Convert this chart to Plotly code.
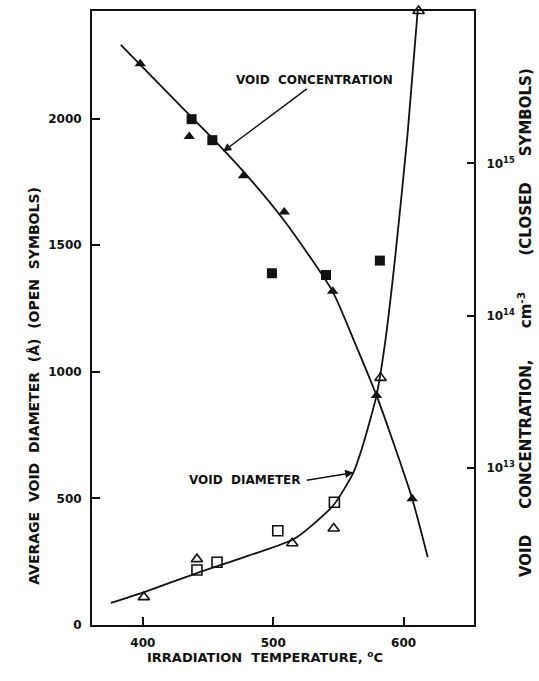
import plotly.graph_objects as go

# ---- data ----
# closed symbols: void concentration (cm^-3), right log axis
conc_tri_T = [398, 435.6, 477.2, 508.5, 545.6, 579.2, 606.6]
conc_tri_N = [4.5e15, 1.5e15, 8.3e14, 4.8e14, 1.45e14, 3.0e13, 6.3e12]
conc_sq_T = [437.4, 453.3, 499, 540.5, 581.8]
conc_sq_N = [1.95e15, 1.42e15, 1.9e14, 1.85e14, 2.3e14]

# open symbols: average void diameter (Å), left axis
dia_tri_T = [400.8, 441.5, 514.6, 546.4, 582.3, 611.5]
dia_tri_D = [110, 260, 323, 381, 976, 2425]
dia_sq_T = [441.5, 456.9, 503.5, 546.9]
dia_sq_D = [217, 248, 372, 485]

# fitted curves
conc_curve_T = [383.1, 428.5, 453.8, 476.9, 508.5, 545.4, 561.5, 579.2, 590, 606.6, 618.5]
conc_curve_N = [6.0e15, 2.4e15, 1.45e15, 8.9e14, 4.2e14, 1.45e14, 7.0e13, 3.0e13, 1.66e13, 6.3e12, 2.6e12]
dia_curve_T = [375.4, 400, 441.5, 480, 516.9, 546, 561.5, 568.5, 579.2, 586, 593.8, 603, 610.8]
dia_curve_D = [87, 128, 205, 272, 343, 472, 602, 705, 906, 1122, 1465, 1937, 2425]

x_ticks = [400, 500, 600]
y_ticks = [0, 500, 1000, 1500, 2000]
y2_ticks = [1e13, 1e14, 1e15]
y2_ticktext = ["10<sup>13</sup>", "10<sup>14</sup>", "10<sup>15</sup>"]

FONT = "DejaVu Sans"
BLACK = "#111111"
NB = "\u00a0"

fig = go.Figure()

fig.add_trace(go.Scatter(x=conc_curve_T, y=conc_curve_N, yaxis="y2", mode="lines",
                         line=dict(color=BLACK, width=1.8, shape="spline", smoothing=0.6),
                         hoverinfo="skip", showlegend=False))
fig.add_trace(go.Scatter(x=dia_curve_T, y=dia_curve_D, mode="lines",
                         line=dict(color=BLACK, width=1.8, shape="spline", smoothing=0.6),
                         hoverinfo="skip", showlegend=False, cliponaxis=True))

fig.add_trace(go.Scatter(x=conc_tri_T, y=conc_tri_N, yaxis="y2", mode="markers",
                         marker=dict(symbol="triangle-up", size=10, color=BLACK),
                         showlegend=False))
fig.add_trace(go.Scatter(x=conc_sq_T, y=conc_sq_N, yaxis="y2", mode="markers",
                         marker=dict(symbol="square", size=10, color=BLACK),
                         showlegend=False))
fig.add_trace(go.Scatter(x=dia_tri_T, y=dia_tri_D, mode="markers", cliponaxis=False,
                         marker=dict(symbol="triangle-up-open", size=10, color=BLACK,
                                     line=dict(width=1.6, color=BLACK)),
                         showlegend=False))
fig.add_trace(go.Scatter(x=dia_sq_T, y=dia_sq_D, mode="markers",
                         marker=dict(symbol="square-open", size=10, color=BLACK,
                                     line=dict(width=1.6, color=BLACK)),
                         showlegend=False))

tickfont = dict(family=FONT, size=12, color=BLACK, weight="bold")

fig.update_layout(
    width=539, height=681,
    margin=dict(l=92, r=65, t=9, b=56),
    paper_bgcolor="white", plot_bgcolor="white",
    xaxis=dict(range=[361, 654], tickvals=x_ticks, ticks="inside", ticklen=8, tickwidth=1.6,
               tickcolor=BLACK, showline=True, linewidth=2, linecolor=BLACK, mirror=True,
               showgrid=False, zeroline=False, tickfont=tickfont, ticklabelstandoff=6),
    yaxis=dict(range=[0, 2425], tickvals=y_ticks, ticks="inside", ticklen=8, tickwidth=1.6,
               tickcolor=BLACK, showline=True, linewidth=2, linecolor=BLACK, mirror=True,
               showgrid=False, zeroline=False, tickfont=tickfont, ticklabelstandoff=6),
    yaxis2=dict(type="log", range=[11.97, 16.0], overlaying="y", side="right",
                tickvals=y2_ticks, ticktext=y2_ticktext, ticks="inside", ticklen=7,
                tickwidth=1.6, tickcolor=BLACK, showline=True, linewidth=2, linecolor=BLACK,
                showgrid=False, zeroline=False, tickfont=tickfont, ticklabelstandoff=8),
)

# plot-area pixel box, used to place the titles in paper coordinates
PL, PR, PT, PB = 92, 539 - 65, 9, 681 - 56
def to_paper(px, py):
    return (px - PL) / (PR - PL), (PB - py) / (PB - PT)

def title_ann(px, py, text, size, angle=0):
    x, y = to_paper(px, py)
    return dict(x=x, y=y, xref="paper", yref="paper", text=text, textangle=angle,
                showarrow=False, font=dict(family=FONT, size=size, color=BLACK, weight="bold"))

annotations = [
    # arrows
    dict(x=461.5, y=1870, ax=526.9, ay=2122, xref="x", yref="y", axref="x", ayref="y",
         text="", showarrow=True, arrowhead=2, arrowsize=1.1, arrowwidth=1.5,
         arrowcolor=BLACK, standoff=0),
    dict(x=561.5, y=602, ax=524.6, ay=571, xref="x", yref="y", axref="x", ayref="y",
         text="", showarrow=True, arrowhead=2, arrowsize=1.1, arrowwidth=1.5,
         arrowcolor=BLACK, standoff=0),
    # curve labels
    dict(x=531.5, y=2154, xref="x", yref="y", text="VOID  CONCENTRATION",
         showarrow=False, font=dict(family=FONT, size=12, color=BLACK, weight="bold")),
    dict(x=478.1, y=571, xref="x", yref="y", text="VOID  DIAMETER",
         showarrow=False, font=dict(family=FONT, size=12, color=BLACK, weight="bold")),
    # axis titles
    title_ann(265, 667, "IRRADIATION" + NB * 2 + "TEMPERATURE," + NB + "<sup>o</sup>C", 13),
    title_ann(24, 385, "AVERAGE" + NB * 2 + "VOID" + NB * 2 + "DIAMETER" + NB * 2 + "(Å)"
              + NB * 2 + "(OPEN" + NB * 2 + "SYMBOLS)", 14, -90),
    title_ann(537, 322, "VOID" + NB * 5 + "CONCENTRATION," + NB * 6 + "cm<sup>-3</sup>"
              + NB * 7 + "(CLOSED" + NB * 5 + "SYMBOLS)", 15, -90),
]

fig.update_layout(annotations=annotations)

fig.write_html("out.html")
